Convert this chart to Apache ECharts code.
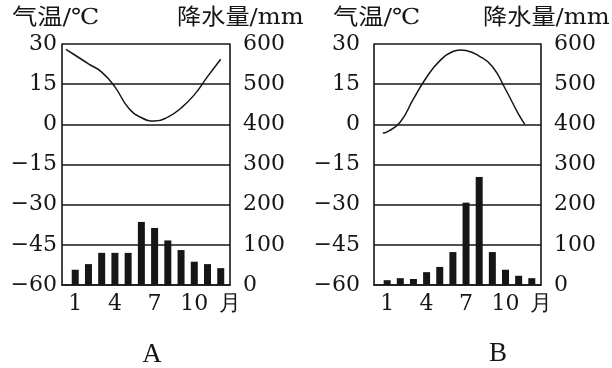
<!DOCTYPE html>
<html>
<head>
<meta charset="utf-8">
<script src="https://cdn.jsdelivr.net/npm/echarts@6/dist/echarts.min.js"></script>
<style>html,body{margin:0;padding:0;background:#fff;}#c{width:612px;height:368px;}</style>
</head>
<body>
<div id="c"></div>
<script>
// ---- data ----
const months = [1, 2, 3, 4, 5, 6, 7, 8, 9, 10, 11, 12];
const precipA = [38, 52, 80, 80, 80, 157, 142, 111, 87, 58, 52, 42];
const precipB = [12, 17, 15, 32, 45, 82, 205, 269, 82, 38, 23, 17];
const tempMonthsA = [0.3, 1, 2, 3, 4, 5, 6, 7, 8, 9, 10, 11, 12];
const tempA = [28, 25.8, 22.6, 19.5, 14, 6.3, 2.5, 1.2, 2.7, 6.1, 11, 17.8, 24.3];
const tempMonthsB = [0.67, 1, 2, 3, 4, 5, 6, 6.57, 7, 8, 9, 10, 11, 11.47];
const tempB = [-3.2, -2.8, 0.9, 9.5, 17.6, 23.7, 27.2, 27.8, 27.6, 25.5, 21.6, 13.1, 3.7, 0];
const monthTicks = [1, 4, 7, 10];
const monthUnit = '月';
const tempTitle = '气温/℃';
const precipTitle = '降水量/mm';
const panelNames = ['A', 'B'];

const ink = '#161616';
const serif = 'DejaVu Serif';

function pairs(xs, ys) { return xs.map((x, i) => [x, ys[i]]); }

const grids = [
  { left: 62, width: 168, top: 44, height: 241 },
  { left: 374, width: 167, top: 44, height: 241 }
];
const leftMargins = [5, 14];

const xAxes = [], yAxes = [], series = [];
[0, 1].forEach(g => {
  xAxes.push({
    type: 'value', gridIndex: g, min: 0, max: 12.7, interval: 1,
    axisLine: { show: true, onZero: false, lineStyle: { color: ink, width: 1.6 } },
    axisTick: { show: false },
    splitLine: { show: false },
    axisLabel: {
      margin: 8, color: ink, fontFamily: serif, fontSize: 22,
      showMinLabel: true, showMaxLabel: true,
      formatter: v => v > 12.5 ? monthUnit : (monthTicks.indexOf(Math.round(v * 100) / 100) >= 0 ? String(v) : '')
    }
  });
  yAxes.push({
    type: 'value', gridIndex: g, position: 'left', min: -60, max: 30, interval: 15,
    axisLine: { show: true, onZero: false, lineStyle: { color: ink, width: 1.6 } },
    axisTick: { show: false },
    splitLine: { show: true, lineStyle: { color: ink, width: 1.6 } },
    axisLabel: {
      margin: leftMargins[g], color: ink, fontFamily: serif, fontSize: 22,
      formatter: v => String(v).replace('-', '\u2212')
    }
  });
  yAxes.push({
    type: 'value', gridIndex: g, position: 'right', min: 0, max: 600, interval: 100,
    axisLine: { show: true, onZero: false, lineStyle: { color: ink, width: 1.6 } },
    axisTick: { show: false },
    splitLine: { show: false },
    axisLabel: { margin: 13, color: ink, fontFamily: serif, fontSize: 22 }
  });
});

series.push({
  type: 'bar', xAxisIndex: 0, yAxisIndex: 1, barWidth: 7,
  itemStyle: { color: ink }, data: pairs(months, precipA), silent: true
});
series.push({
  type: 'line', xAxisIndex: 0, yAxisIndex: 0, smooth: 0.5, symbol: 'none',
  lineStyle: { color: ink, width: 1.5 }, data: pairs(tempMonthsA, tempA), silent: true
});
series.push({
  type: 'bar', xAxisIndex: 1, yAxisIndex: 3, barWidth: 7,
  itemStyle: { color: ink }, data: pairs(months, precipB), silent: true
});
series.push({
  type: 'line', xAxisIndex: 1, yAxisIndex: 2, smooth: 0.5, symbol: 'none',
  lineStyle: { color: ink, width: 1.5 }, data: pairs(tempMonthsB, tempB), silent: true
});

const titleFont = '22px "DejaVu Serif", "Noto Sans CJK SC", serif';
const graphic = [
  { type: 'text', x: 12, y: 18, scaleX: 1.15, style: { text: tempTitle, font: titleFont, fill: ink, textAlign: 'left', textVerticalAlign: 'middle' } },
  { type: 'text', x: 177, y: 18, scaleX: 1.1, style: { text: precipTitle, font: titleFont, fill: ink, textAlign: 'left', textVerticalAlign: 'middle' } },
  { type: 'text', x: 333, y: 18, scaleX: 1.15, style: { text: tempTitle, font: titleFont, fill: ink, textAlign: 'left', textVerticalAlign: 'middle' } },
  { type: 'text', x: 483, y: 18, scaleX: 1.1, style: { text: precipTitle, font: titleFont, fill: ink, textAlign: 'left', textVerticalAlign: 'middle' } },
  { type: 'text', x: 152, y: 355, style: { text: panelNames[0], font: '27px "Liberation Serif", serif', fill: ink, textAlign: 'center', textVerticalAlign: 'middle' } },
  { type: 'text', x: 498, y: 354, style: { text: panelNames[1], font: '27px "Liberation Serif", serif', fill: ink, textAlign: 'center', textVerticalAlign: 'middle' } }
];

const chart = echarts.init(document.getElementById('c'), null, { renderer: 'canvas' });
chart.setOption({
  animation: false,
  backgroundColor: '#fff',
  grid: grids,
  xAxis: xAxes,
  yAxis: yAxes,
  series: series,
  graphic: graphic
});
</script>
</body>
</html>
